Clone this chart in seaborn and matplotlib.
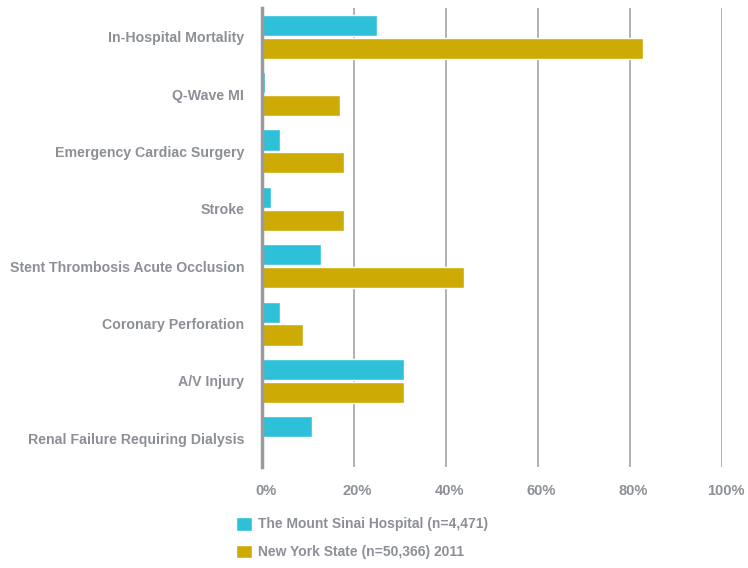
import matplotlib
matplotlib.use("Agg")
import matplotlib.pyplot as plt
import matplotlib.transforms as mtransforms
import seaborn as sns
import pandas as pd

# data
categories = [
    "In-Hospital Mortality",
    "Q-Wave MI",
    "Emergency Cardiac Surgery",
    "Stroke",
    "Stent Thrombosis Acute Occlusion",
    "Coronary Perforation",
    "A/V Injury",
    "Renal Failure Requiring Dialysis",
]
series_names = ["The Mount Sinai Hospital (n=4,471)", "New York State (n=50,366) 2011"]
sinai_values = [25, 0.7, 4, 2, 13, 4, 31, 11]
nys_values = [83, 17, 18, 18, 44, 9, 31, 0]
x_ticks = [0, 20, 40, 60, 80, 100]
x_tick_labels = ["0%", "20%", "40%", "60%", "80%", "100%"]

palette = {series_names[0]: "#2EC0D9", series_names[1]: "#CEAA04"}
text_color = "#8C9096"

df = pd.DataFrame({
    "Category": categories * 2,
    "Value": sinai_values + nys_values,
    "Series": [series_names[0]] * len(categories) + [series_names[1]] * len(categories),
})

sns.set_theme(style="white")
plt.rcParams["font.family"] = ["Liberation Sans", "DejaVu Sans"]
plt.rcParams["font.weight"] = "bold"

fig = plt.figure(figsize=(7.48, 5.68), dpi=100)
ax = fig.add_axes([0.3496, 0.1778, 0.6150, 0.8081])

sns.barplot(data=df, y="Category", x="Value", hue="Series", palette=palette,
            order=categories, hue_order=series_names, width=0.8, gap=0.08,
            saturation=1, ax=ax, legend=True)

ax.set_xlim(0, 100)
ax.set_ylim(len(categories) - 0.5, -0.5)
ax.set_xticks(x_ticks)
ax.set_xticklabels(x_tick_labels)
ax.set_xlabel("")
ax.set_ylabel("")
ax.xaxis.grid(True, color="#A3A3A3", linewidth=1.2)
ax.set_axisbelow(True)
for s in ["top", "right", "bottom"]:
    ax.spines[s].set_visible(False)
ax.spines["left"].set_color("#9A9A9E")
ax.spines["left"].set_linewidth(2.5)
ax.spines["left"].set_zorder(5)
ax.tick_params(axis="y", length=0, pad=12.5, labelsize=10.2, labelcolor=text_color)
ax.tick_params(axis="x", length=0, pad=12, labelsize=10.5, labelcolor=text_color)

# x tick labels sit a little right of their gridlines in the reference
shift = mtransforms.ScaledTranslation(4 / 100, 0, fig.dpi_scale_trans)
for lab in ax.get_xticklabels():
    lab.set_transform(lab.get_transform() + shift)

handles, labels = ax.get_legend_handles_labels()
ax.get_legend().remove()
fig.legend(handles, labels, loc="upper left", bbox_to_anchor=(0.3155, 0.090),
           frameon=False, borderpad=0, borderaxespad=0, handlelength=1.15,
           handleheight=1.15, handletextpad=0.45, labelspacing=0.95,
           fontsize=10, labelcolor=text_color)

fig.savefig("out.png", dpi=100)
